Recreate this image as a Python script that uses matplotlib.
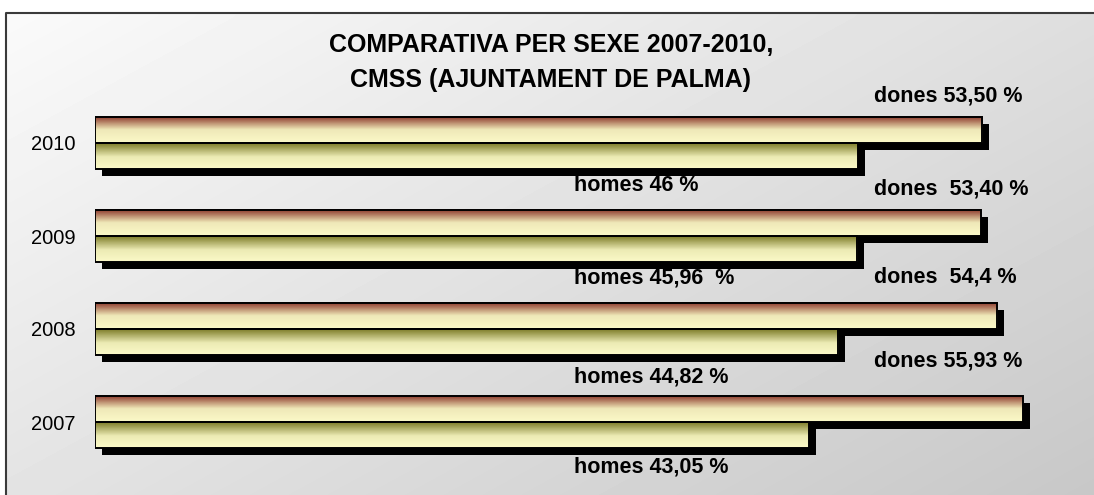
import numpy as np
import matplotlib
matplotlib.use('Agg')
import matplotlib.pyplot as plt
import matplotlib.transforms as mtransforms
from matplotlib.colors import LinearSegmentedColormap

# Dades
anys = ['2007', '2008', '2009', '2010']
dones = [55.93, 54.4, 53.4, 53.5]
homes = [43.05, 44.82, 45.96, 46]
etiquetes_dones = ['dones 55,93 %', 'dones  54,4 %', 'dones  53,40 %', 'dones 53,50 %']
etiquetes_homes = ['homes 43,05 %', 'homes 44,82 %', 'homes 45,96  %', 'homes 46 %']

plt.rcParams['font.family'] = ['Liberation Sans', 'DejaVu Sans']

W, H = 1094, 495
fig = plt.figure(dpi=100, figsize=(W / 100, H / 100))
fig.patch.set_facecolor('white')

# Fons amb degradat i marc
bg = fig.add_axes([0, 0, 1, 1], zorder=-1)
bg.axis('off')
u, v = np.meshgrid(np.linspace(0, 1, 200), np.linspace(0, 1, 100))
grad = 0.98 - 0.20 * (0.55 * u + 0.45 * v)
bg.imshow(grad, cmap='gray', vmin=0, vmax=1, extent=(6, W + 10, H + 10, 13),
          aspect='auto', interpolation='bicubic')
bg.plot([6, 6, W + 10], [H + 10, 13, 13], color='#3a3a3a', lw=1.5)
bg.set_xlim(0, W)
bg.set_ylim(H, 0)

# Títol
fig.text(551 / W, 1 - 45 / H, 'COMPARATIVA PER SEXE 2007-2010,', ha='center', va='center',
         fontsize=18, fontweight='bold')
fig.text(551 / W, 1 - 80 / H, 'CMSS (AJUNTAMENT DE PALMA)', ha='center', va='center',
         fontsize=18, fontweight='bold')

# Eix principal
ymin, ymax = -0.7, 3.6
px_unit = 93
ax_h = (ymax - ymin) * px_unit
ax_bottom = 495 - (422 + 0.7 * px_unit)
ax = fig.add_axes([95 / W, ax_bottom / H, 995 / W, ax_h / H])
ax.patch.set_alpha(0)

cmap_dones = LinearSegmentedColormap.from_list('dones', [(0, '#8a3428'), (0.5, '#efe8b8'), (1, '#fbf9c8')])
cmap_homes = LinearSegmentedColormap.from_list('homes', [(0, '#767520'), (0.55, '#ecebb4'), (1, '#fbf9c8')])

y = np.arange(len(anys))
h = 0.28
ombra = mtransforms.offset_copy(ax.transData, fig=fig, x=7, y=-7, units='dots')
degradat = np.linspace(0, 1, 64).reshape(-1, 1)

for serie, pos, cmap in [(dones, y + h / 2, cmap_dones), (homes, y - h / 2, cmap_homes)]:
    # ombra negra
    ax.barh(pos, serie, height=h, color='black', transform=ombra, zorder=1)
    for val, yc in zip(serie, pos):
        ax.imshow(degradat, cmap=cmap, vmin=0, vmax=1, aspect='auto', interpolation='bilinear',
                  extent=(0, val, yc - h / 2, yc + h / 2), zorder=2)
    ax.barh(pos, serie, height=h, facecolor='none', edgecolor='black', linewidth=1.4, zorder=3)

# Etiquetes de valors
off_dones = [0.656, 0.56, 0.505, 0.505]
off_homes = [-0.48, -0.52, -0.45, -0.46]
for i in range(len(anys)):
    ax.text(47.0, y[i] + off_dones[i], etiquetes_dones[i], ha='left', va='center',
            fontsize=15.5, fontweight='bold')
    ax.text(28.9, y[i] + off_homes[i], etiquetes_homes[i], ha='left', va='center',
            fontsize=15.5, fontweight='bold')

ax.set_xlim(0, 60)
ax.set_ylim(ymin, ymax)
ax.set_yticks(y)
ax.set_yticklabels(anys, fontsize=14.5)
ax.tick_params(axis='y', length=0, pad=14)
ax.set_xticks([])
for s in ax.spines.values():
    s.set_visible(False)

fig.savefig('out.png', dpi=100)
